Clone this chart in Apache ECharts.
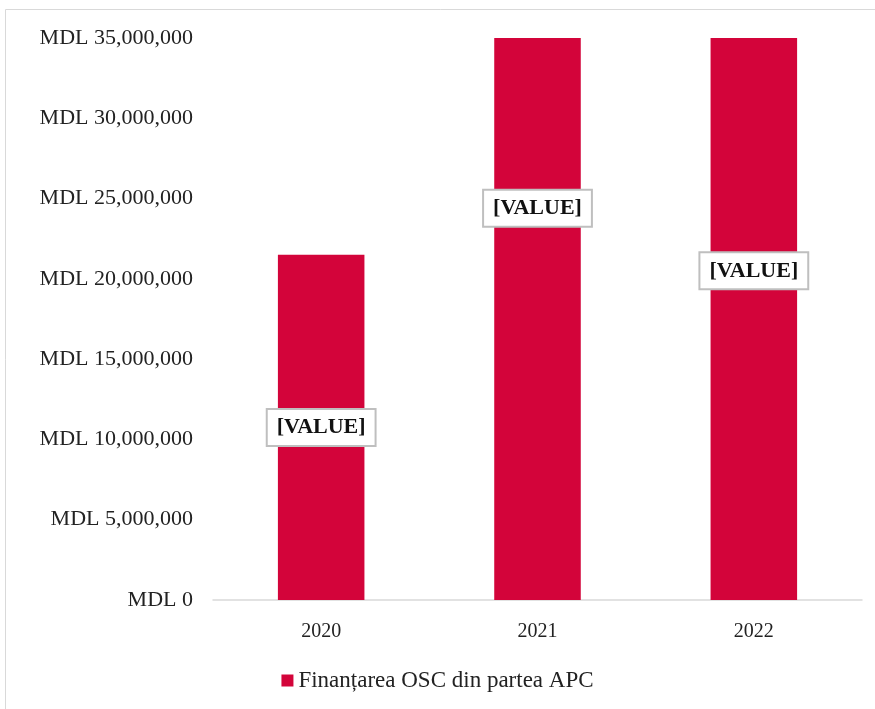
<!DOCTYPE html>
<html>
<head>
<meta charset="utf-8">
<script src="https://cdn.jsdelivr.net/npm/echarts@6/dist/echarts.min.js"></script>
<style>
    html, body { margin: 0; padding: 0; background: #fff; }
    #main { width: 875px; height: 709px; }
</style>
</head>
<body>
<div id="main"></div>
<script>
    var years = ['2020', '2021', '2022'];
    // valori estimate; 2021 si 2022 depasesc axa (taiate la 35 mil.)
    var finantare = [21500000, 48800000, 41000000];
    var seriesName = 'Finanțarea OSC din partea APC';
    var yMax = 35000000;
    var yStep = 5000000;

    var fontSerif = '"Liberation Serif", "DejaVu Serif", serif';

    // eticheta sta la mijlocul valorii reale (ca in Excel), nu a barei taiate
    var labelPos = finantare.map(function (v) { return v / 2; });

    var myChart = echarts.init(document.getElementById('main'));
    var option = {
        animation: false,
        graphic: [{
            type: 'rect',
            shape: { x: 5.5, y: 9.5, width: 900, height: 760 },
            style: { fill: 'none', stroke: '#d9d9d9', lineWidth: 1 },
            silent: true
        }],
        grid: {
            left: 213,
            right: 13,
            top: 38,
            bottom: 109
        },
        legend: {
            data: [seriesName],
            bottom: 12,
            left: 'center',
            icon: 'rect',
            itemWidth: 12,
            itemHeight: 12,
            itemGap: 5,
            textStyle: {
                fontFamily: fontSerif,
                fontSize: 23,
                color: '#222'
            }
        },
        xAxis: {
            type: 'category',
            data: years,
            axisLine: { lineStyle: { color: '#d9d9d9', width: 1.5 } },
            axisTick: { show: false },
            axisLabel: {
                margin: 22,
                fontFamily: fontSerif,
                fontSize: 20,
                color: '#222'
            }
        },
        yAxis: {
            type: 'value',
            min: 0,
            max: yMax,
            interval: yStep,
            axisLine: { show: false },
            axisTick: { show: false },
            splitLine: { show: false },
            axisLabel: {
                margin: 20,
                fontFamily: fontSerif,
                fontSize: 22,
                color: '#222',
                formatter: function (v) {
                    return 'MDL ' + v.toLocaleString('en-US');
                }
            }
        },
        series: [
            {
                name: seriesName,
                type: 'bar',
                data: finantare,
                barWidth: '40%',
                clip: true,
                itemStyle: { color: '#D3043A' }
            },
            {
                name: 'etichete',
                type: 'scatter',
                data: labelPos,
                symbolSize: 0,
                silent: true,
                z: 5,
                itemStyle: { opacity: 1 },
                label: {
                    show: true,
                    position: 'inside',
                    formatter: '[VALUE]',
                    fontFamily: fontSerif,
                    fontWeight: 'bold',
                    fontSize: 22,
                    color: '#111',
                    backgroundColor: '#fff',
                    borderColor: '#bfbfbf',
                    borderWidth: 2,
                    padding: [7, 9, 6, 9]
                }
            }
        ]
    };
    myChart.setOption(option);
</script>
</body>
</html>
